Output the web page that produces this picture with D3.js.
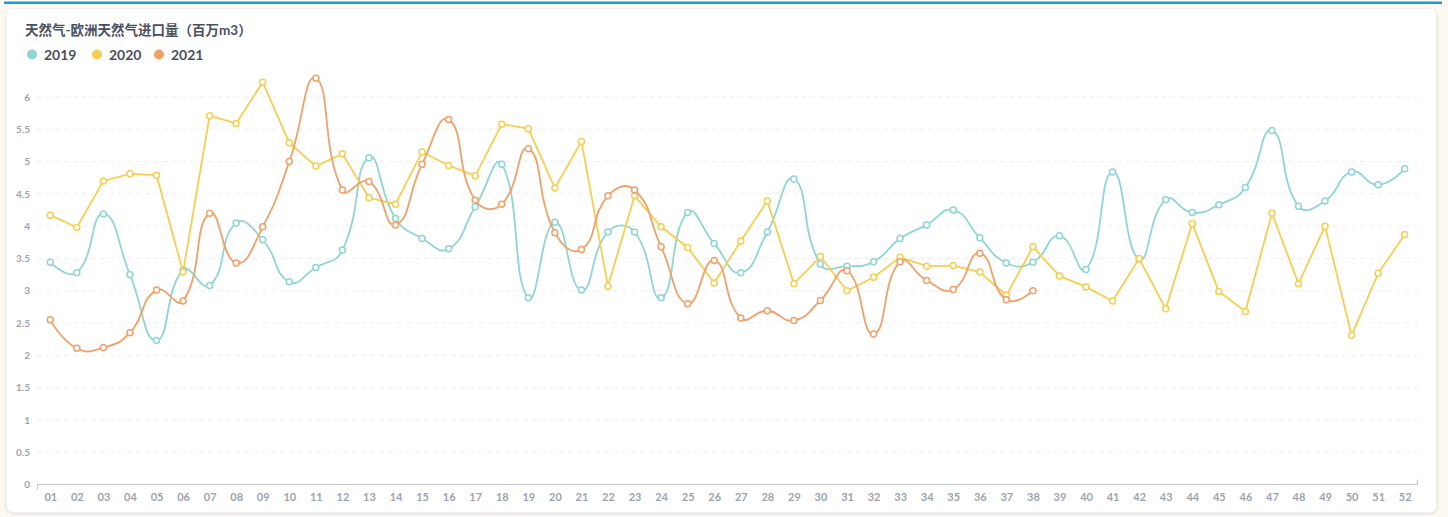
<!DOCTYPE html>
<html>
<head>
<meta charset="utf-8">
<script src="https://cdn.jsdelivr.net/npm/d3@7/dist/d3.min.js"></script>
<style>
  html, body { margin: 0; padding: 0; background: #fef9f0; }
  svg { display: block; font-family: Lato, "Noto Sans CJK SC", sans-serif; }
</style>
</head>
<body>
<svg id="chart" width="1448" height="517"></svg>
<script>
// Week labels on the category axis
const weeks = d3.range(1, 53).map(d => String(d).padStart(2, "0"));

// European natural gas imports, million m3, by week
const series2019 = [3.44, 3.28, 4.19, 3.25, 2.23, 3.32, 3.08, 4.05, 3.79, 3.14, 3.36, 3.63, 5.06,
  4.12, 3.81, 3.65, 4.30, 4.96, 2.89, 4.06, 3.01, 3.91, 3.91, 2.89, 4.21, 3.73,
  3.28, 3.91, 4.73, 3.41, 3.38, 3.45, 3.81, 4.02, 4.25, 3.82, 3.43, 3.44, 3.85,
  3.33, 4.84, 3.49, 4.41, 4.21, 4.33, 4.60, 5.48, 4.31, 4.39, 4.84, 4.64, 4.89];
const series2020 = [4.17, 3.98, 4.70, 4.81, 4.79, 3.29, 5.71, 5.59, 6.23, 5.29, 4.93, 5.12, 4.44,
  4.34, 5.15, 4.94, 4.78, 5.58, 5.51, 4.59, 5.31, 3.07, 4.47, 3.99, 3.67, 3.12,
  3.77, 4.39, 3.11, 3.53, 3.00, 3.21, 3.52, 3.38, 3.39, 3.29, 2.93, 3.68, 3.23,
  3.06, 2.84, 3.50, 2.72, 4.04, 2.99, 2.68, 4.20, 3.11, 4.00, 2.31, 3.27, 3.87];
const series2021 = [2.55, 2.11, 2.12, 2.35, 3.01, 2.84, 4.20, 3.43, 3.99, 5.00, 6.29, 4.56, 4.69,
  4.02, 4.96, 5.65, 4.40, 4.34, 5.20, 3.90, 3.64, 4.47, 4.56, 3.68, 2.80, 3.47,
  2.58, 2.69, 2.54, 2.85, 3.31, 2.33, 3.45, 3.16, 3.02, 3.58, 2.86, 3.00];

const yTicks = [0, 0.5, 1, 1.5, 2, 2.5, 3, 3.5, 4, 4.5, 5, 5.5, 6];
const yTickLabels = ["0", "0.5", "1", "1.5", "2", "2.5", "3", "3.5", "4", "4.5", "5", "5.5", "6"];

const seriesList = [
  { name: "2019", values: series2019, color: "#8fd5d2", smooth: true },
  { name: "2020", values: series2020, color: "#f5ce52", smooth: false },
  { name: "2021", values: series2021, color: "#f0a068", smooth: true }
];

const svg = d3.select("#chart");
const W = 1448, H = 517;

// Page backdrop: top accent rule and the white card
svg.append("rect").attr("x", 0).attr("y", 0).attr("width", W).attr("height", H).attr("fill", "#fef9f0");
svg.append("rect").attr("x", 4).attr("y", 1.5).attr("width", 1438).attr("height", 2.5).attr("fill", "#139ee3");

const defs = svg.append("defs");
const shadow = defs.append("filter").attr("id", "cardShadow")
  .attr("x", "-2%").attr("y", "-2%").attr("width", "104%").attr("height", "104%");
shadow.append("feDropShadow").attr("dx", 0).attr("dy", 1).attr("stdDeviation", 1.5)
  .attr("flood-color", "#b8bcc6").attr("flood-opacity", 0.45);

svg.append("rect")
  .attr("x", 6.5).attr("y", 8.5).attr("width", 1430).attr("height", 504)
  .attr("rx", 6).attr("fill", "#ffffff").attr("stroke", "#eef0f3")
  .attr("filter", "url(#cardShadow)");

// Title and legend
svg.append("text")
  .attr("x", 25).attr("y", 35)
  .attr("fill", "#4a5060").attr("font-size", 13.5).attr("font-weight", 700)
  .text("天然气-欧洲天然气进口量（百万m3）");

const legendX = [32, 97, 159];
seriesList.forEach((s, i) => {
  const g = svg.append("g").attr("transform", `translate(${legendX[i]},54.5)`);
  g.append("circle").attr("r", 5).attr("fill", s.color);
  g.append("text").attr("x", 12).attr("y", 5).attr("fill", "#4a5060")
    .attr("font-size", 14).attr("font-weight", 700).text(s.name);
});

// Plot area
const plot = { left: 37, right: 1418, top: 97, bottom: 484.5 };

const x = d3.scalePoint().domain(weeks).range([plot.left, plot.right]).padding(0.5);
const y = d3.scaleLinear().domain([0, 6]).range([plot.bottom, plot.top]);

// Dashed horizontal grid
svg.append("g")
  .selectAll("line")
  .data(yTicks.filter(v => v > 0))
  .join("line")
  .attr("x1", plot.left).attr("x2", plot.right)
  .attr("y1", d => y(d)).attr("y2", d => y(d))
  .attr("stroke", "#eceef1").attr("stroke-width", 1).attr("stroke-dasharray", "5,4");

// Y axis labels
const yAxis = d3.axisLeft(y).tickValues(yTicks).tickSize(0).tickPadding(0)
  .tickFormat((d, i) => yTickLabels[i]);
svg.append("g").attr("transform", `translate(30,0)`).call(yAxis)
  .call(g => g.select(".domain").remove())
  .call(g => g.selectAll("text").attr("fill", "#9ea3ab").attr("font-size", 10)
    .attr("font-weight", 700).attr("font-family", "Lato, sans-serif"));

// X axis line with end ticks and week labels
const xAxisG = svg.append("g").attr("transform", `translate(0,${plot.bottom})`);
xAxisG.append("line").attr("x1", plot.left).attr("x2", plot.right)
  .attr("y1", 0).attr("y2", 0).attr("stroke", "#c4c7cd").attr("stroke-width", 1);
xAxisG.append("line").attr("x1", plot.left + 0.5).attr("x2", plot.left + 0.5)
  .attr("y1", 0).attr("y2", 5).attr("stroke", "#c4c7cd");
xAxisG.append("line").attr("x1", plot.right - 0.5).attr("x2", plot.right - 0.5)
  .attr("y1", 0).attr("y2", -5).attr("stroke", "#c4c7cd");

const xAxis = d3.axisBottom(x).tickSize(0).tickPadding(9);
xAxisG.append("g").call(xAxis)
  .call(g => g.select(".domain").remove())
  .call(g => g.selectAll("text").attr("fill", "#9ea3ab").attr("font-size", 11)
    .attr("font-weight", 700).attr("font-family", "Lato, sans-serif"));

// Bezier smoothing weighted by segment lengths (smoothness 0.5)
function smoothCurve(context) {
  let pts = [];
  const k = 0.5;
  return {
    areaStart() {}, areaEnd() {},
    lineStart() { pts = []; },
    point(px, py) { pts.push([+px, +py]); },
    lineEnd() {
      const n = pts.length;
      if (!n) return;
      const cin = [], cout = [];
      for (let i = 0; i < n; i++) {
        const [px, py] = pts[i];
        if (i === 0 || i === n - 1) { cin.push([px, py]); cout.push([px, py]); continue; }
        const [ax, ay] = pts[i - 1], [bx, by] = pts[i + 1];
        const vx = bx - ax, vy = by - ay;
        const d0 = Math.hypot(px - ax, py - ay), d1 = Math.hypot(bx - px, by - py);
        const r = d1 / (d0 + d1);
        cin.push([px - vx * k * (1 - r), py - vy * k * (1 - r)]);
        cout.push([px + vx * k * r, py + vy * k * r]);
      }
      context.moveTo(pts[0][0], pts[0][1]);
      for (let i = 1; i < n; i++) {
        context.bezierCurveTo(cout[i - 1][0], cout[i - 1][1], cin[i][0], cin[i][1], pts[i][0], pts[i][1]);
      }
    }
  };
}

seriesList.forEach(s => {
  const pts = s.values.map((v, i) => ({ week: weeks[i], value: v }));
  const line = d3.line().x(d => x(d.week)).y(d => y(d.value))
    .curve(s.smooth ? smoothCurve : d3.curveLinear);
  const g = svg.append("g");
  g.append("path").datum(pts).attr("d", line)
    .attr("fill", "none").attr("stroke", s.color).attr("stroke-width", 1.8);
  g.selectAll("circle").data(pts).join("circle")
    .attr("cx", d => x(d.week)).attr("cy", d => y(d.value)).attr("r", 3)
    .attr("fill", "#ffffff").attr("stroke", s.color).attr("stroke-width", 1.5);
});
</script>
</body>
</html>
